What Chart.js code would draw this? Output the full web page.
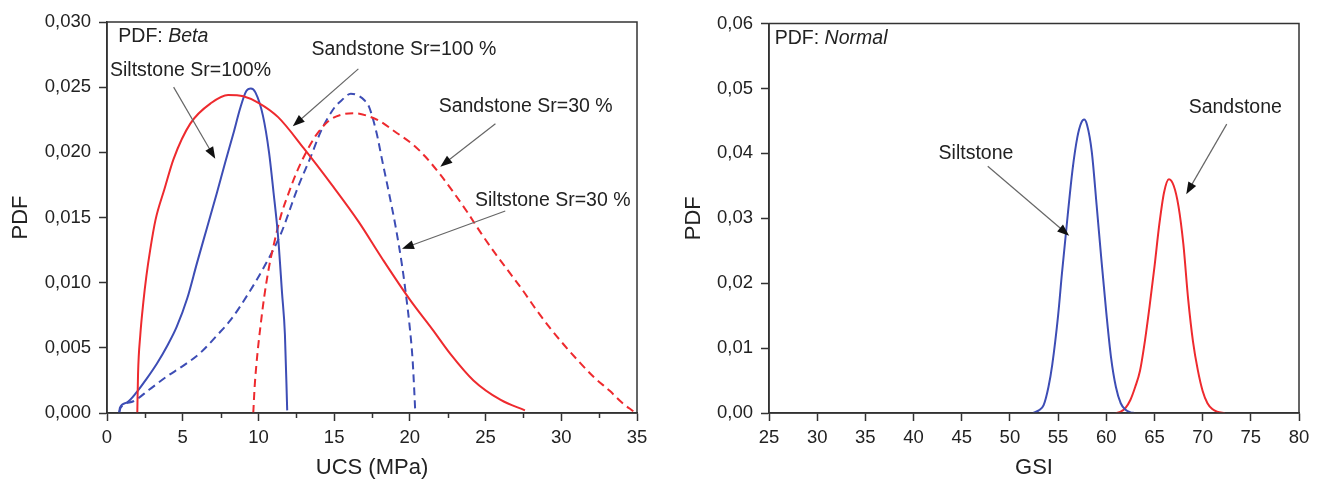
<!DOCTYPE html>
<html>
<head>
<meta charset="utf-8">
<script src="https://cdn.jsdelivr.net/npm/chart.js@4.4.1/dist/chart.umd.min.js"></script>
<style>
  html, body { margin: 0; padding: 0; background: #fff; }
  .chart-box { position: absolute; top: 0; width: 660px; height: 481px; }
  #ucsBox { left: 0; }
  #gsiBox { left: 660px; }
</style>
</head>
<body>
<div class="chart-box" id="ucsBox"><canvas id="ucsChart" width="660" height="481"></canvas></div>
<div class="chart-box" id="gsiBox"><canvas id="gsiChart" width="660" height="481"></canvas></div>
<script>
// ===================================
// DATA
// ===================================
// UCS, Beta PDF
const sandSr100X = [2.0, 2.05, 2.2, 2.4, 2.6, 2.85, 3.2, 3.8, 4.4, 5.5, 6.9, 8.0, 9.0, 10.0, 11.3, 13.0, 14.85, 16.6, 18.2, 20.0, 21.5, 22.7, 24.2, 26.0, 27.6];
const sandSr100Y = [0, 0.003, 0.006, 0.0085, 0.0105, 0.0125, 0.0148, 0.0172, 0.0195, 0.0222, 0.0238, 0.0244, 0.0243, 0.0238, 0.0227, 0.0203, 0.0175, 0.0147, 0.0118, 0.0087, 0.0064, 0.0045, 0.0025, 0.001, 0.0002];
const siltSr100X = [0.8, 0.85, 1.3, 1.96, 2.6, 3.3, 4.0, 4.6, 5.3, 5.94, 6.6, 7.26, 7.8, 8.36, 8.8, 9.2, 9.5, 9.8, 10.3, 10.7, 11.0, 11.3, 11.56, 11.75, 11.9];
const siltSr100Y = [0, 0.0004, 0.0008, 0.0016, 0.0026, 0.0038, 0.0052, 0.0066, 0.0088, 0.0115, 0.0142, 0.0169, 0.0192, 0.0215, 0.0234, 0.0247, 0.0249, 0.0246, 0.0228, 0.02, 0.0169, 0.0135, 0.0092, 0.006, 0.0002];
const sandSr30X = [9.66, 9.75, 9.93, 10.15, 10.38, 10.7, 11.05, 11.5, 11.94, 12.5, 13.06, 13.8, 14.63, 15.5, 16.4, 17.2, 18.0, 19.0, 20.2, 21.0, 22.0, 22.9, 23.8, 24.7, 25.6, 26.5, 27.4, 28.3, 29.2, 30.2, 31.2, 32.2, 33.2, 34.0, 34.8];
const sandSr30Y = [0, 0.002, 0.0045, 0.0068, 0.0089, 0.0112, 0.0131, 0.0152, 0.0167, 0.0184, 0.0198, 0.0213, 0.0224, 0.0229, 0.023, 0.0228, 0.0224, 0.0216, 0.0206, 0.0197, 0.0183, 0.0169, 0.0154, 0.0138, 0.0123, 0.0109, 0.0095, 0.008, 0.0066, 0.0052, 0.0039, 0.0027, 0.0017, 0.0008, 0.0001];
const siltSr30X = [0.8, 0.9, 1.74, 2.8, 3.95, 5.0, 6.15, 7.3, 8.14, 9.3, 10.37, 11.5, 12.6, 13.4, 14.16, 15.0, 15.5, 16.1, 16.5, 17.0, 17.3, 17.8, 18.17, 18.6, 19.06, 19.5, 19.73, 20.0, 20.18, 20.3, 20.36];
const siltSr30Y = [0, 0.0004, 0.0009, 0.0018, 0.0028, 0.0036, 0.0046, 0.006, 0.0071, 0.0091, 0.0112, 0.0138, 0.0173, 0.0195, 0.0217, 0.0234, 0.024, 0.0245, 0.0244, 0.024, 0.0235, 0.0215, 0.0194, 0.017, 0.0143, 0.0112, 0.0092, 0.0065, 0.0041, 0.0015, 0];
// GSI, Normal PDF
const gsiSiltX = [52.4, 53.0, 53.5, 54.0, 54.4, 55.0, 55.4, 56.0, 56.5, 57.0, 57.4, 57.7, 58.0, 58.5, 59.0, 59.5, 60.0, 60.5, 61.0, 61.5, 62.0, 62.5, 62.9];
const gsiSiltY = [0, 0.0004, 0.0012, 0.004, 0.0075, 0.015, 0.0215, 0.0305, 0.0375, 0.0425, 0.0447, 0.0452, 0.0444, 0.0402, 0.032, 0.0235, 0.0155, 0.0085, 0.004, 0.0015, 0.0005, 0.0001, 0];
const gsiSandX = [61.0, 61.5, 62.0, 62.5, 63.0, 63.5, 64.0, 64.5, 65.0, 65.5, 66.0, 66.5, 67.0, 67.5, 68.0, 68.5, 69.0, 69.5, 70.0, 70.5, 71.0, 71.5, 72.3];
const gsiSandY = [0, 0.0002, 0.0008, 0.002, 0.004, 0.0065, 0.011, 0.0165, 0.0225, 0.029, 0.034, 0.036, 0.035, 0.0318, 0.026, 0.0175, 0.011, 0.0066, 0.0034, 0.0015, 0.0006, 0.0002, 0];
// Tick values
const ucsTicks = [0, 5, 10, 15, 20, 25, 30, 35];
const ucsMinorTicks = [2.5, 7.5, 12.5, 17.5, 22.5, 27.5, 32.5];
const ucsPdfTicks = [0, 0.005, 0.01, 0.015, 0.02, 0.025, 0.03];
const gsiTicks = [25, 30, 35, 40, 45, 50, 55, 60, 65, 70, 75, 80];
const gsiPdfTicks = [0, 0.01, 0.02, 0.03, 0.04, 0.05, 0.06];

// ===================================
// ANNOTATIONS (data units)
// ===================================
const ucsNotes = [
  { text: "PDF: ", italic: "Beta", x: 0.75, y: 0.0289 },
  { text: "Siltstone Sr=100%", x: 0.2, y: 0.0263 },
  { text: "Sandstone Sr=100 %", x: 13.5, y: 0.0279 },
  { text: "Sandstone Sr=30 %", x: 21.9, y: 0.0235 },
  { text: "Siltstone Sr=30 %", x: 24.3, y: 0.0163 }
];
const ucsArrows = [
  [4.4, 0.025, 7.15, 0.0195],
  [16.6, 0.0264, 12.27, 0.022],
  [25.65, 0.0222, 22.01, 0.0189],
  [26.3, 0.0155, 19.48, 0.0126]
];
const gsiNotes = [
  { text: "PDF: ", italic: "Normal", x: 25.6, y: 0.0577 },
  { text: "Siltstone", x: 42.6, y: 0.04 },
  { text: "Sandstone", x: 68.55, y: 0.047 }
];
const gsiArrows = [
  [47.7, 0.038, 56.15, 0.0273],
  [72.5, 0.0445, 68.3, 0.0337]
];

const RED = "#ee2a2e";
const BLUE = "#3d4db5";
const INK = "#222";
const FONT = "'Liberation Sans', Arial, sans-serif";

// ===================================
// PLUGIN: frame, minor ticks, labels, arrows
// ===================================
const annotatePlugin = {
  id: "annotate",
  afterDatasetsDraw(chart, args, opts) {
    const { ctx, chartArea, scales } = chart;
    const xs = scales.x, ys = scales.y;
    ctx.save();
    ctx.strokeStyle = "#333";
    ctx.lineWidth = 1.5;
    ctx.strokeRect(chartArea.left, chartArea.top, chartArea.right - chartArea.left, chartArea.bottom - chartArea.top);
    // minor ticks
    (opts.minorTicks || []).forEach((v) => {
      const px = Math.round(xs.getPixelForValue(v)) + 0.5;
      ctx.beginPath();
      ctx.moveTo(px, chartArea.bottom);
      ctx.lineTo(px, chartArea.bottom + 5);
      ctx.stroke();
    });
    // arrows
    (opts.arrows || []).forEach((a) => {
      const x1 = xs.getPixelForValue(a[0]), y1 = ys.getPixelForValue(a[1]);
      const x2 = xs.getPixelForValue(a[2]), y2 = ys.getPixelForValue(a[3]);
      const ang = Math.atan2(y2 - y1, x2 - x1);
      const len = 12, wid = 4.5;
      ctx.strokeStyle = "#666";
      ctx.lineWidth = 1.2;
      ctx.beginPath();
      ctx.moveTo(x1, y1);
      ctx.lineTo(x2 - Math.cos(ang) * len * 0.8, y2 - Math.sin(ang) * len * 0.8);
      ctx.stroke();
      ctx.fillStyle = "#111";
      ctx.beginPath();
      ctx.moveTo(x2, y2);
      ctx.lineTo(x2 - Math.cos(ang) * len - Math.sin(ang) * wid, y2 - Math.sin(ang) * len + Math.cos(ang) * wid);
      ctx.lineTo(x2 - Math.cos(ang) * len + Math.sin(ang) * wid, y2 - Math.sin(ang) * len - Math.cos(ang) * wid);
      ctx.closePath();
      ctx.fill();
    });
    // labels
    ctx.fillStyle = INK;
    ctx.textBaseline = "middle";
    ctx.textAlign = "left";
    (opts.notes || []).forEach((n) => {
      const px = xs.getPixelForValue(n.x), py = ys.getPixelForValue(n.y);
      ctx.font = "19.5px " + FONT;
      ctx.fillText(n.text, px, py);
      if (n.italic) {
        const w = ctx.measureText(n.text).width;
        ctx.font = "italic 19.5px " + FONT;
        ctx.fillText(n.italic, px + w, py);
      }
    });
    ctx.restore();
  }
};

// ===================================
// CHART HELPERS
// ===================================
function toPoints(xs, ys) {
  return xs.map((x, i) => ({ x: x, y: ys[i] }));
}

function curve(xs, ys, color, dashed) {
  return {
    data: toPoints(xs, ys),
    borderColor: color,
    borderWidth: 2,
    borderDash: dashed ? [8, 5] : [],
    pointRadius: 0,
    cubicInterpolationMode: "monotone",
    fill: false
  };
}

function axis(cfg) {
  return {
    type: "linear",
    min: cfg.min,
    max: cfg.max,
    afterBuildTicks: (scale) => {
      scale.ticks = cfg.ticks.map((v) => ({ value: v }));
    },
    afterFit: (scale) => {
      if (cfg.width) scale.width = cfg.width;
      if (cfg.height) scale.height = cfg.height;
    },
    ticks: {
      color: INK,
      font: { family: FONT, size: 18.5 },
      padding: cfg.padding,
      maxRotation: 0,
      autoSkip: false,
      callback: cfg.format
    },
    grid: {
      drawOnChartArea: false,
      drawTicks: true,
      tickLength: 8,
      tickWidth: 1.5,
      tickColor: "#333"
    },
    border: { color: "#333", width: 1.5 },
    title: {
      display: true,
      text: cfg.title,
      color: INK,
      font: { family: FONT, size: 22 },
      padding: cfg.titlePad
    }
  };
}

function makeChart(id, datasets, opts) {
  const ctx = document.getElementById(id);
  return new Chart(ctx, {
    type: "line",
    data: { datasets: datasets },
    options: {
      responsive: false,
      animation: false,
      devicePixelRatio: 1,
      layout: { padding: opts.padding },
      plugins: {
        legend: { display: false },
        tooltip: { enabled: false },
        annotate: { notes: opts.notes, arrows: opts.arrows, minorTicks: opts.minorTicks }
      },
      scales: { x: opts.x, y: opts.y }
    },
    plugins: [annotatePlugin]
  });
}

// ===================================
// INITIALIZATION
// ===================================
document.addEventListener("DOMContentLoaded", function () {
  initUcsChart();
  initGsiChart();
});

function initUcsChart() {
  makeChart("ucsChart", [
    curve(sandSr100X, sandSr100Y, RED, false),
    curve(siltSr100X, siltSr100Y, BLUE, false),
    curve(sandSr30X, sandSr30Y, RED, true),
    curve(siltSr30X, siltSr30Y, BLUE, true)
  ], {
    padding: { top: 22, right: 23, left: 0, bottom: 0 },
    notes: ucsNotes,
    arrows: ucsArrows,
    minorTicks: ucsMinorTicks,
    x: axis({ min: 0, max: 35, ticks: ucsTicks, height: 68, padding: 6, title: "UCS (MPa)", titlePad: { top: 0, bottom: 0 }, format: (v) => String(v) }),
    y: axis({ min: 0, max: 0.03, ticks: ucsPdfTicks, width: 107, padding: 8, title: "PDF", titlePad: { top: 8, bottom: 0 }, format: (v) => v.toFixed(3).replace(".", ",") })
  });
}

function initGsiChart() {
  makeChart("gsiChart", [
    curve(gsiSiltX, gsiSiltY, BLUE, false),
    curve(gsiSandX, gsiSandY, RED, false)
  ], {
    padding: { top: 23.5, right: 21, left: 0, bottom: 0 },
    notes: gsiNotes,
    arrows: gsiArrows,
    minorTicks: [],
    x: axis({ min: 25, max: 80, ticks: gsiTicks, height: 68, padding: 6, title: "GSI", titlePad: { top: 0, bottom: 0 }, format: (v) => String(v) }),
    y: axis({ min: 0, max: 0.06, ticks: gsiPdfTicks, width: 109, padding: 8, title: "PDF", titlePad: { top: 21, bottom: 0 }, format: (v) => v.toFixed(2).replace(".", ",") })
  });
}
</script>
</body>
</html>
